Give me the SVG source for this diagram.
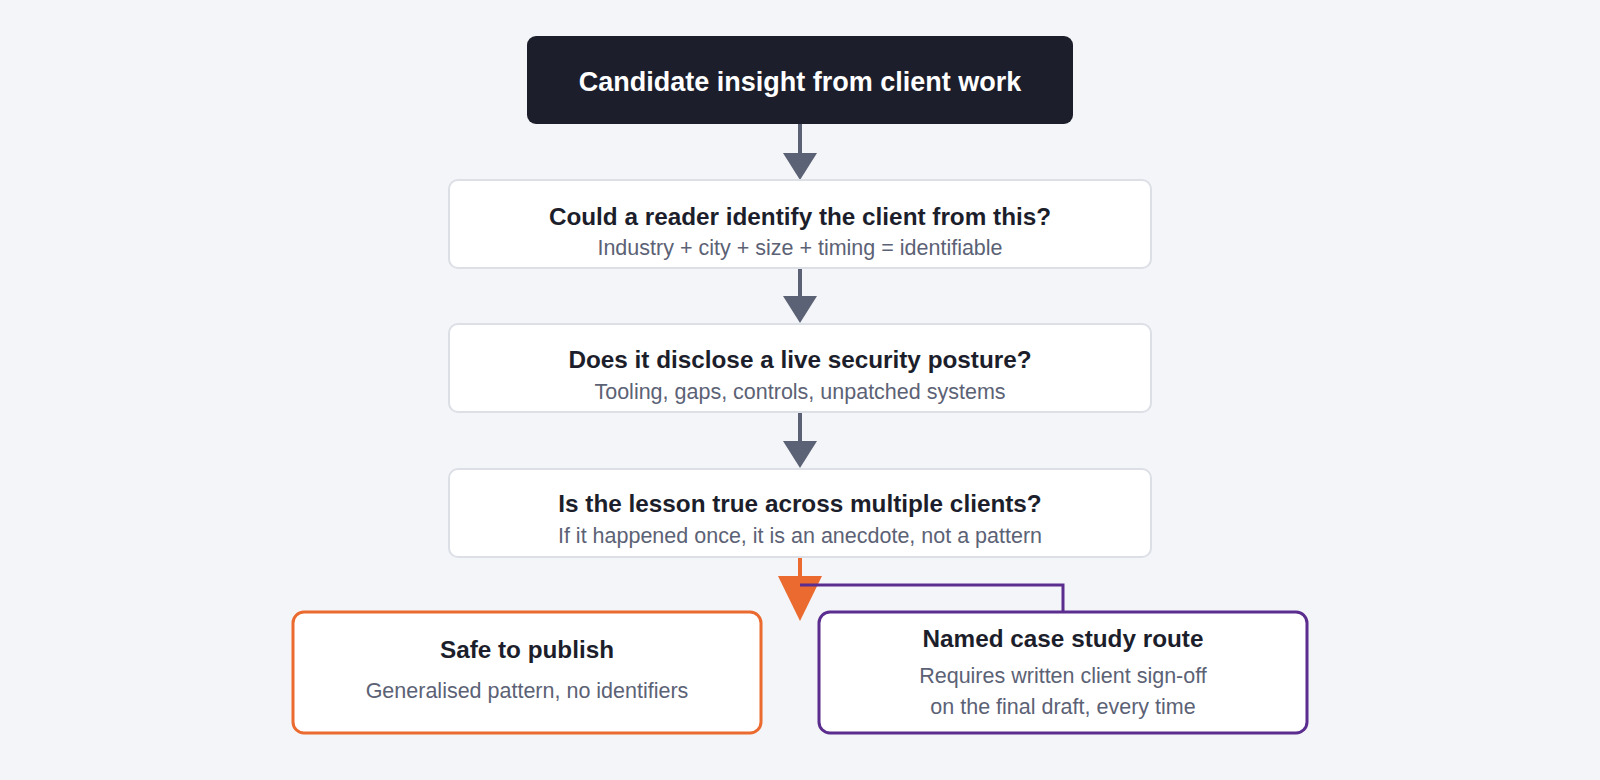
<svg xmlns="http://www.w3.org/2000/svg" width="1600" height="780" viewBox="0 0 1600 780">
<style>
.t{font-family:"Liberation Sans",Arial,sans-serif;font-weight:bold;font-size:24.3px;fill:#1c1e2b;text-anchor:middle}
.s{font-family:"Liberation Sans",Arial,sans-serif;font-size:21.5px;fill:#5c6275;text-anchor:middle}
.q{fill:#ffffff;stroke:#dcdfe6;stroke-width:2}
</style>
<rect width="1600" height="780" fill="#f4f5f8"/>
<g id="connectors">
<line x1="800" y1="124" x2="800" y2="155" stroke="#5c6275" stroke-width="4"/>
<polygon points="783,153 817,153 800,180" fill="#5c6275"/>
<line x1="800" y1="268" x2="800" y2="298" stroke="#5c6275" stroke-width="4"/>
<polygon points="783,296 817,296 800,323" fill="#5c6275"/>
<line x1="800" y1="412" x2="800" y2="443" stroke="#5c6275" stroke-width="4"/>
<polygon points="783,441 817,441 800,468" fill="#5c6275"/>
<line x1="800" y1="557" x2="800" y2="580" stroke="#ea6a2f" stroke-width="4"/>
<polygon points="778,576 822,576 800,621" fill="#ea6a2f"/>
<polyline points="800,585 1063,585 1063,611" fill="none" stroke="#5b2d8e" stroke-width="3"/>
</g>
<g id="start">
<rect x="527" y="36" width="546" height="88" rx="9" fill="#1c1e2b"/>
<text class="t" x="800" y="91" style="fill:#fff;font-size:27px">Candidate insight from client work</text>
</g>
<g id="q1">
<rect class="q" x="449" y="180" width="702" height="88" rx="9"/>
<text class="t" x="800" y="225">Could a reader identify the client from this?</text>
<text class="s" x="800" y="255">Industry + city + size + timing = identifiable</text>
</g>
<g id="q2">
<rect class="q" x="449" y="324" width="702" height="88" rx="9"/>
<text class="t" x="800" y="368">Does it disclose a live security posture?</text>
<text class="s" x="800" y="399">Tooling, gaps, controls, unpatched systems</text>
</g>
<g id="q3">
<rect class="q" x="449" y="469" width="702" height="88" rx="9"/>
<text class="t" x="800" y="512">Is the lesson true across multiple clients?</text>
<text class="s" x="800" y="543">If it happened once, it is an anecdote, not a pattern</text>
</g>
<g id="safe">
<rect x="293" y="612" width="468" height="121" rx="11" fill="#fff" stroke="#ea6a2f" stroke-width="3"/>
<text class="t" x="527" y="658">Safe to publish</text>
<text class="s" x="527" y="698">Generalised pattern, no identifiers</text>
</g>
<g id="named">
<rect x="819" y="612" width="488" height="121" rx="11" fill="#fff" stroke="#5b2d8e" stroke-width="3"/>
<text class="t" x="1063" y="647">Named case study route</text>
<text class="s" x="1063" y="683">Requires written client sign-off</text>
<text class="s" x="1063" y="714">on the final draft, every time</text>
</g>
</svg>
